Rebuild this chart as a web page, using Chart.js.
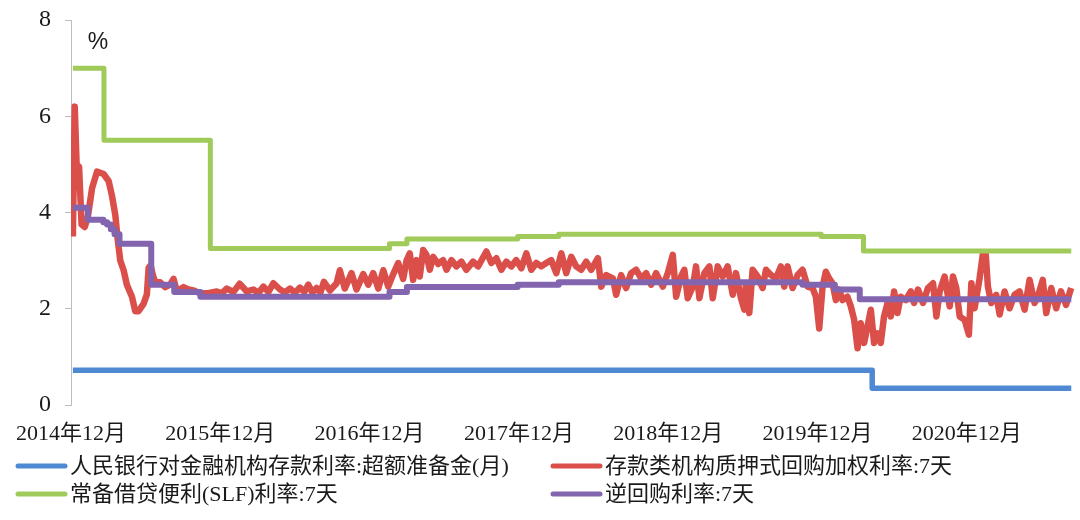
<!DOCTYPE html>
<html>
<head>
<meta charset="utf-8">
<script src="https://cdn.jsdelivr.net/npm/chart.js@4.4.1/dist/chart.umd.min.js"></script>
<style>
  html, body { margin: 0; padding: 0; background: #ffffff; }
  #wrap { width: 1080px; height: 520px; position: relative; }
</style>
</head>
<body>
<div id="wrap"><canvas id="c" width="1080" height="520"></canvas></div>
<script>
// x positions are months counted from December 2014
const xTickLabels = ['2014年12月', '2015年12月', '2016年12月', '2017年12月', '2018年12月', '2019年12月', '2020年12月'];
const yTickValues = [0, 2, 4, 6, 8];
const unitLabel = '%';

const seriesNames = [
  '人民银行对金融机构存款利率:超额准备金(月)',
  '存款类机构质押式回购加权利率:7天',
  '常备借贷便利(SLF)利率:7天',
  '逆回购利率:7天'
];
const seriesColors = ['#5089d3', '#db4f4b', '#a0cb5b', '#8364ae'];

// excess reserve deposit rate (step series: each value starts at its month)
const ioerMonths = [0.15, 64.4, 80.4];
const ioerRates  = [0.72, 0.35, 0.35];

// SLF 7-day rate
const slfMonths = [0.15, 2.65, 11.2, 25.6, 27.0, 35.9, 39.2, 60.3, 63.7, 80.4];
const slfRates  = [7.0, 5.5, 3.25, 3.35, 3.45, 3.5, 3.55, 3.5, 3.2, 3.2];

// 7-day reverse repo rate
const rrMonths = [0.15, 1.35, 2.6, 2.9, 3.2, 3.5, 3.9, 6.45, 8.3, 10.4, 25.6, 27.0, 35.9, 39.2, 58.8, 61.4, 63.4, 80.4];
const rrRates  = [4.1, 3.85, 3.8, 3.75, 3.65, 3.55, 3.35, 2.5, 2.35, 2.25, 2.35, 2.45, 2.5, 2.55, 2.5, 2.4, 2.2, 2.2];

// DR007 weighted repo rate
const drMonths = [
  0.15, 0.30, 0.45, 0.65, 0.85, 1.10, 1.35, 1.69, 2.09, 2.62, 3.03, 3.29, 3.56, 3.75, 3.96, 4.23, 4.49, 4.90, 5.16, 5.43,
  5.83, 6.10, 6.24, 6.40, 6.58, 6.77, 7.17, 7.57, 7.97, 8.24, 8.51, 9.04, 9.45, 9.85, 10.38, 10.92, 11.72, 12.12, 12.52, 13.06,
  13.56, 14.13, 14.66, 15.07, 15.47, 15.87, 16.27, 16.80, 17.20, 17.60, 18.00, 18.40, 18.75, 19.08, 19.40, 19.74, 20.05, 20.33, 20.81, 21.35,
  21.61, 22.01, 22.55, 22.95, 23.49, 23.89, 24.29, 24.70, 25.10, 25.50, 25.90, 26.30, 26.70, 26.97, 27.23, 27.50, 27.77, 28.03, 28.31, 28.57,
  28.84, 29.11, 29.51, 29.91, 30.18, 30.58, 30.98, 31.38, 31.78, 32.32, 32.72, 33.39, 33.79, 34.19, 34.59, 34.99, 35.39, 35.79, 36.20, 36.60,
  37.00, 37.40, 37.80, 38.20, 38.60, 39.01, 39.41, 39.81, 40.21, 40.61, 41.01, 41.41, 41.81, 42.35, 42.62, 43.02, 43.56, 43.82, 44.22, 44.62,
  45.02, 45.43, 45.83, 46.23, 46.63, 47.03, 47.57, 47.97, 48.37, 48.64, 49.04, 49.30, 49.57, 49.98, 50.24, 50.51, 50.91, 51.31, 51.58, 51.98,
  52.38, 52.78, 53.19, 53.45, 53.85, 54.12, 54.25, 54.52, 54.79, 55.19, 55.59, 55.86, 56.26, 56.66, 57.06, 57.33, 57.60, 58.00, 58.40, 58.80,
  59.21, 59.61, 59.87, 60.14, 60.41, 60.67, 60.94, 61.21, 61.48, 61.74, 62.01, 62.41, 62.68, 62.95, 63.22, 63.48, 63.75, 64.02, 64.29, 64.55,
  64.82, 65.09, 65.35, 65.63, 65.89, 66.16, 66.43, 66.69, 67.09, 67.50, 67.76, 68.08, 68.48, 68.88, 69.29, 69.56, 69.82, 70.22, 70.63, 70.89,
  71.16, 71.43, 71.83, 72.17, 72.37, 72.63, 73.03, 73.30, 73.52, 73.70, 73.97, 74.37, 74.64, 75.04, 75.44, 75.84, 76.24, 76.65, 77.05, 77.45,
  77.71, 78.11, 78.39, 78.79, 79.19, 79.57, 79.98, 80.39
];
const drRates = [
  3.50, 6.20, 5.00, 4.95, 3.75, 3.70, 3.90, 4.50, 4.85, 4.80, 4.65, 4.35, 3.95, 3.45, 3.00, 2.80, 2.50, 2.25, 1.95, 1.95,
  2.10, 2.30, 2.85, 2.90, 2.70, 2.55, 2.55, 2.45, 2.50, 2.62, 2.36, 2.45, 2.40, 2.38, 2.32, 2.32, 2.36, 2.32, 2.42, 2.35,
  2.52, 2.36, 2.40, 2.33, 2.46, 2.35, 2.53, 2.40, 2.34, 2.42, 2.33, 2.44, 2.35, 2.50, 2.34, 2.43, 2.34, 2.56, 2.38, 2.53,
  2.80, 2.42, 2.74, 2.40, 2.72, 2.50, 2.74, 2.42, 2.80, 2.46, 2.72, 2.95, 2.62, 3.00, 3.15, 2.60, 3.01, 2.67, 3.22, 3.12,
  2.81, 3.08, 2.93, 3.01, 2.81, 3.01, 2.88, 2.98, 2.81, 2.98, 2.88, 3.19, 2.95, 3.05, 2.81, 2.98, 2.88, 3.01, 2.84, 3.15,
  2.81, 2.95, 2.88, 2.95, 3.01, 2.74, 3.15, 2.74, 3.08, 2.88, 2.81, 2.98, 2.81, 3.05, 2.46, 2.70, 2.63, 2.29, 2.70, 2.43,
  2.74, 2.81, 2.63, 2.74, 2.50, 2.74, 2.46, 2.74, 3.12, 2.25, 2.67, 2.81, 2.22, 2.46, 2.88, 2.22, 2.74, 2.88, 2.22, 2.88,
  2.67, 2.88, 2.29, 2.74, 2.22, 1.98, 2.53, 1.91, 2.81, 2.67, 2.43, 2.81, 2.70, 2.63, 2.88, 2.46, 2.88, 2.43, 2.70, 2.81,
  2.46, 2.43, 2.25, 1.59, 2.46, 2.77, 2.63, 2.53, 2.18, 2.40, 2.18, 2.25, 2.05, 1.77, 1.18, 1.70, 1.29, 1.63, 1.98, 1.29,
  1.49, 1.29, 1.84, 2.12, 1.84, 2.36, 1.91, 2.25, 2.18, 2.36, 2.12, 2.40, 2.12, 2.43, 2.53, 1.84, 2.36, 2.67, 2.05, 2.67,
  2.43, 1.84, 1.77, 1.46, 2.53, 2.01, 2.63, 3.15, 3.15, 2.46, 2.12, 2.29, 1.88, 2.36, 2.01, 2.29, 2.36, 1.98, 2.60, 2.12,
  2.25, 2.60, 1.91, 2.43, 2.01, 2.36, 2.08, 2.43
];

const SERIF = '"Liberation Serif", "Times New Roman", "Noto Sans CJK SC", serif';
const TEXT_COLOR = '#1a1a1a';
const AXIS_COLOR = '#bdbdbd';

function toPoints(xs, ys) {
  return xs.map((x, i) => ({ x: x, y: ys[i] }));
}

// unit label and the two-column legend below the axis
const overlay = {
  id: 'overlay',
  afterDraw(chart) {
    const ctx = chart.ctx;
    const area = chart.chartArea;
    ctx.save();
    ctx.fillStyle = TEXT_COLOR;
    ctx.font = '23px "Liberation Sans", Arial, sans-serif';
    ctx.textAlign = 'center';
    ctx.textBaseline = 'middle';
    ctx.fillText(unitLabel, area.left + 27, area.top + 23);

    const cols = [16, 551];
    const rows = [466, 494];
    chart.data.datasets.forEach((ds, i) => {
      const x = cols[i % 2];
      const y = rows[Math.floor(i / 2)];
      ctx.strokeStyle = ds.borderColor;
      ctx.lineWidth = 5;
      ctx.lineCap = 'round';
      ctx.beginPath();
      ctx.moveTo(x + 2, y);
      ctx.lineTo(x + 49, y);
      ctx.stroke();
      ctx.fillStyle = TEXT_COLOR;
      ctx.font = '22px ' + SERIF;
      ctx.textAlign = 'left';
      ctx.textBaseline = 'middle';
      ctx.fillText(ds.label, x + 54, y + 1);
    });
    ctx.restore();
  }
};

const lineBase = {
  pointRadius: 0,
  pointHoverRadius: 0,
  fill: false,
  tension: 0,
  borderJoinStyle: 'round',
  borderCapStyle: 'butt'
};

new Chart(document.getElementById('c'), {
  type: 'line',
  data: {
    datasets: [
      Object.assign({}, lineBase, {
        label: seriesNames[0], data: toPoints(ioerMonths, ioerRates),
        borderColor: seriesColors[0], borderWidth: 5.5, stepped: 'before', order: 4
      }),
      Object.assign({}, lineBase, {
        label: seriesNames[1], data: toPoints(drMonths, drRates),
        borderColor: seriesColors[1], borderWidth: 6.5, order: 3
      }),
      Object.assign({}, lineBase, {
        label: seriesNames[2], data: toPoints(slfMonths, slfRates),
        borderColor: seriesColors[2], borderWidth: 5, stepped: 'before', order: 2
      }),
      Object.assign({}, lineBase, {
        label: seriesNames[3], data: toPoints(rrMonths, rrRates),
        borderColor: seriesColors[3], borderWidth: 6, stepped: 'before', order: 1
      })
    ]
  },
  options: {
    responsive: false,
    devicePixelRatio: 1,
    animation: false,
    events: [],
    layout: { padding: { top: 0, right: 5, bottom: 70, left: 0 } },
    plugins: {
      legend: { display: false },
      tooltip: { enabled: false }
    },
    scales: {
      x: {
        type: 'linear',
        min: 0,
        max: 80.7,
        afterBuildTicks(scale) {
          scale.ticks = xTickLabels.map((_, i) => ({ value: i * 12 }));
        },
        afterFit(scale) { scale.height = 45; },
        ticks: {
          autoSkip: false,
          maxRotation: 0,
          padding: 16,
          color: TEXT_COLOR,
          font: { family: SERIF, size: 22 },
          callback: (v) => xTickLabels[Math.round(v / 12)] || ''
        },
        grid: { display: false, drawTicks: false },
        border: { display: false }
      },
      y: {
        min: 0,
        max: 8,
        afterBuildTicks(scale) {
          scale.ticks = yTickValues.map(v => ({ value: v }));
        },
        afterFit(scale) {
          scale.width = 70;
          scale.paddingTop = 20;
        },
        ticks: {
          padding: 14,
          color: TEXT_COLOR,
          font: { family: SERIF, size: 24 }
        },
        grid: { drawOnChartArea: false, drawTicks: true, tickLength: 6, color: AXIS_COLOR },
        border: { display: true, color: AXIS_COLOR, width: 1 }
      }
    }
  },
  plugins: [overlay]
});
</script>
</body>
</html>
